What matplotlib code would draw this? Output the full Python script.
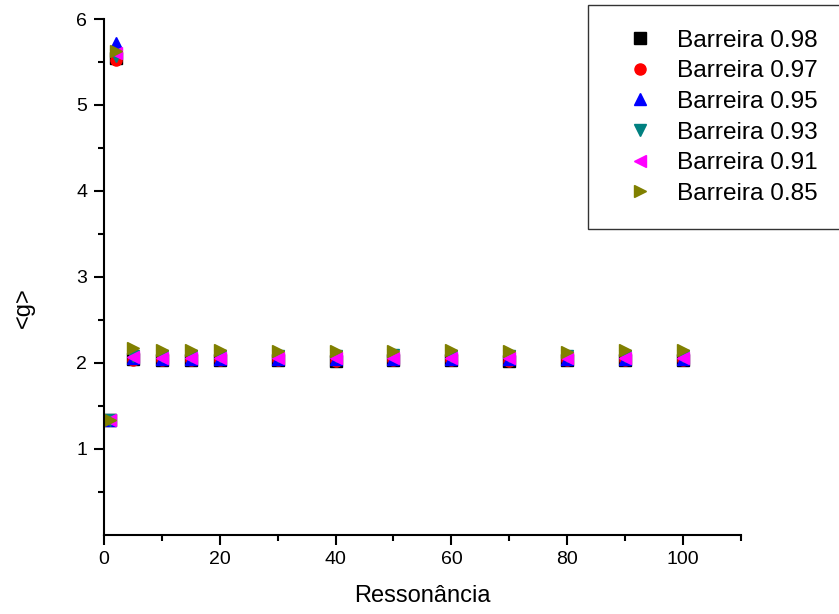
import matplotlib
matplotlib.use('Agg')
import matplotlib.pyplot as plt
from matplotlib.ticker import MultipleLocator, FixedLocator

plt.rcParams['font.family'] = ['Liberation Sans', 'DejaVu Sans']

# Resonance index
ressonancia = [1, 2, 5, 10, 15, 20, 30, 40, 50, 60, 70, 80, 90, 100]

# <g> per barrier
g_098 = [1.33, 5.55, 2.04, 2.03, 2.03, 2.03, 2.03, 2.02, 2.03, 2.03, 2.02, 2.03, 2.03, 2.03]
g_097 = [1.33, 5.52, 2.03, 2.03, 2.03, 2.03, 2.03, 2.02, 2.03, 2.03, 2.02, 2.03, 2.03, 2.03]
g_095 = [1.33, 5.72, 2.06, 2.05, 2.05, 2.05, 2.05, 2.05, 2.05, 2.05, 2.05, 2.05, 2.05, 2.05]
g_093 = [1.33, 5.57, 2.08, 2.08, 2.08, 2.08, 2.08, 2.08, 2.09, 2.08, 2.08, 2.08, 2.08, 2.08]
g_091 = [1.33, 5.60, 2.07, 2.06, 2.06, 2.06, 2.06, 2.06, 2.06, 2.06, 2.06, 2.06, 2.06, 2.06]
g_085 = [1.33, 5.63, 2.17, 2.15, 2.15, 2.15, 2.14, 2.14, 2.14, 2.15, 2.14, 2.13, 2.15, 2.15]

series = [
    (g_098, 's', 'black', 'Barreira 0.98'),
    (g_097, 'o', 'red', 'Barreira 0.97'),
    (g_095, '^', 'blue', 'Barreira 0.95'),
    (g_093, 'v', '#008080', 'Barreira 0.93'),
    (g_091, '<', 'magenta', 'Barreira 0.91'),
    (g_085, '>', '#808000', 'Barreira 0.85'),
]

fig = plt.figure(figsize=(8.39, 6.14), dpi=100, facecolor='white')
ax = fig.add_axes([0.124, 0.129, 0.759, 0.840])

for vals, marker, color, label in series:
    ax.plot(ressonancia, vals, linestyle='none', marker=marker, color=color,
            markersize=8, label=label)

ax.set_xlim(0, 110)
ax.set_ylim(0, 6)
ax.xaxis.set_major_locator(MultipleLocator(20))
ax.xaxis.set_minor_locator(MultipleLocator(10))
ax.yaxis.set_major_locator(FixedLocator([1, 2, 3, 4, 5, 6]))
ax.yaxis.set_minor_locator(FixedLocator([0.5, 1.5, 2.5, 3.5, 4.5, 5.5]))

ax.spines['top'].set_visible(False)
ax.spines['right'].set_visible(False)
for s in ['left', 'bottom']:
    ax.spines[s].set_linewidth(1.5)

ax.tick_params(which='major', direction='out', length=7, width=1.5, labelsize=14, pad=5)
ax.tick_params(which='minor', direction='out', length=4, width=1.5)

ax.set_xlabel('Ressonância', fontsize=17)
ax.set_ylabel('<g>', fontsize=17)
ax.xaxis.set_label_coords(0.5, -0.098)
ax.yaxis.set_label_coords(-0.108, 0.44)

leg = fig.legend(loc='upper left', bbox_to_anchor=(588 / 839, 1 - 5 / 614), fontsize=17.6,
                 frameon=True, fancybox=False, edgecolor='black', handletextpad=0.39,
                 labelspacing=0.35, borderpad=1.0, handlelength=2.26, borderaxespad=0)
leg.get_frame().set_linewidth(1.0)

fig.savefig('out.png', dpi=100, facecolor='white')
plt.close()
